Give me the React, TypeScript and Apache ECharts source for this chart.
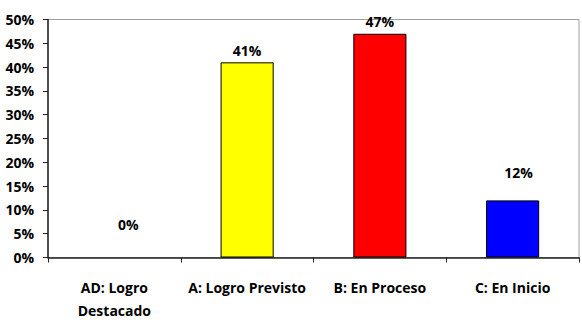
import React, { useEffect, useRef } from "react";
import * as echarts from "echarts";

const categories = ["AD: Logro\nDestacado", "A: Logro Previsto", "B: En Proceso", "C: En Inicio"];
const values = [0, 41, 47, 12];
const barColors = ["#FFFFFF", "#FFFF00", "#FF0000", "#0000FF"];
const labelOffsets: [number, number][] = [[14, -21], [0, 0], [0, 0], [6, -16]];
const yTicks = { min: 0, max: 50, interval: 5 };

const FONT = "'Open Sans', 'Noto Sans', sans-serif";

export default function App() {
  const ref = useRef<HTMLDivElement>(null);
  useEffect(() => {
    if (!ref.current) return;
    const chart = echarts.init(ref.current, null, { renderer: "svg" });
    chart.setOption({
      animation: false,
      backgroundColor: "#FFFFFF",
      grid: {
        left: 48,
        right: 3,
        top: 19.5,
        bottom: 66.5,
        show: true,
        borderColor: "#A0A0A0",
        borderWidth: 1,
        backgroundColor: "#FFFFFF",
      },
      xAxis: {
        type: "category",
        data: categories,
        axisLine: { show: true, lineStyle: { color: "#222", width: 1.5 } },
        axisTick: { show: true, alignWithLabel: false, length: 5, lineStyle: { color: "#222" } },
        axisLabel: {
          color: "#000",
          fontFamily: FONT,
          fontWeight: "bold",
          fontSize: 14,
          lineHeight: 23,
          margin: 18,
          interval: 0,
        },
      },
      yAxis: {
        type: "value",
        min: yTicks.min,
        max: yTicks.max,
        interval: yTicks.interval,
        axisLine: { show: true, lineStyle: { color: "#222", width: 1.5 } },
        axisTick: { show: true, length: 5, lineStyle: { color: "#222" } },
        splitLine: { show: false },
        axisLabel: {
          formatter: "{value}%",
          color: "#000",
          fontFamily: FONT,
          fontWeight: "bold",
          fontSize: 14,
          margin: 14,
        },
      },
      series: [
        {
          type: "bar",
          barWidth: "40%",
          data: values.map((v, i) => ({
            value: v,
            itemStyle: { color: barColors[i], borderColor: "#000", borderWidth: v === 0 ? 0 : 1 },
            label: { offset: labelOffsets[i] },
          })),
          label: {
            show: true,
            position: "top",
            formatter: "{c}%",
            color: "#000",
            fontFamily: FONT,
            fontWeight: "bold",
            fontSize: 14,
          },
        },
      ],
    });
    return () => chart.dispose();
  }, []);
  return (
    <div
      ref={ref}
      style={{ position: "fixed", left: 0, top: 0, width: 582, height: 324, background: "#fff" }}
    />
  );
}
